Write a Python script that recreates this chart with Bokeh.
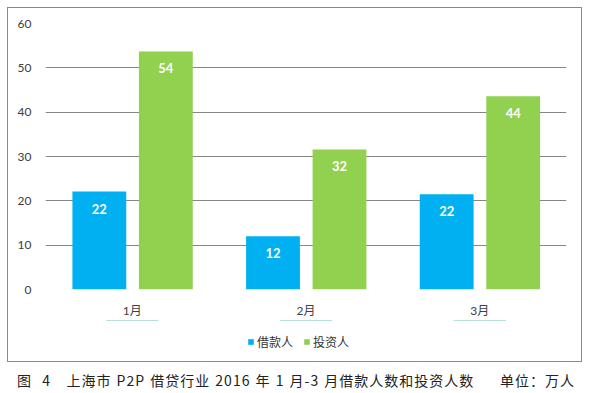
from bokeh.plotting import figure
from bokeh.models import ColumnDataSource, FactorRange, Legend, LegendItem, Div, FixedTicker, Range1d
from bokeh.transform import dodge
from bokeh.layouts import column
from bokeh.embed import file_html
from bokeh.resources import INLINE
from bokeh.core.properties import value

months = ["1月", "2月", "3月"]
borrowers = [22.1, 12.0, 21.5]
investors = [53.7, 31.6, 43.6]
borrower_labels = ["22", "12", "22"]
investor_labels = ["54", "32", "44"]
series_names = ["借款人", "投资人"]
y_ticks = [0, 10, 20, 30, 40, 50, 60]
caption_text = "图  4   上海市 P2P 借贷行业 2016 年 1 月-3 月借款人数和投资人数     单位：万人"

BLUE = "#00B0F0"
GREEN = "#92D050"
FONT = "Lato, 'Noto Sans CJK SC', sans-serif"

src = ColumnDataSource(dict(month=months, b=borrowers, i=investors,
                            bl=borrower_labels, il=investor_labels))

p = figure(width=573, height=312, x_range=FactorRange(factors=months, range_padding=0),
           y_range=(0, 60), output_backend="svg", toolbar_location=None,
           min_border_left=37, min_border_right=15, min_border_top=15, min_border_bottom=31)
p.outline_line_color = None

rb = p.vbar(x=dodge("month", -0.19, range=p.x_range), top="b", width=0.31, source=src,
            fill_color=BLUE, line_color=None)
ri = p.vbar(x=dodge("month", 0.193, range=p.x_range), top="i", width=0.31, source=src,
            fill_color=GREEN, line_color=None)

p.text(x=dodge("month", -0.19, range=p.x_range), y="b", text="bl", source=src,
       text_color="white", text_font=value(FONT), text_font_style="bold",
       text_font_size="13px", text_align="center", text_baseline="middle", y_offset=17)
p.text(x=dodge("month", 0.193, range=p.x_range), y="i", text="il", source=src,
       text_color="white", text_font=value(FONT), text_font_style="bold",
       text_font_size="13px", text_align="center", text_baseline="middle", y_offset=17)

p.xgrid.grid_line_color = None
p.ygrid.grid_line_color = "#868686"
p.ygrid.grid_line_width = 1
p.yaxis.ticker = FixedTicker(ticks=y_ticks)

for ax in (p.xaxis[0], p.yaxis[0]):
    ax.axis_line_color = None
    ax.major_tick_line_color = None
    ax.minor_tick_line_color = None
    ax.major_tick_in = 0
    ax.major_tick_out = 0
    ax.minor_tick_out = 0
    ax.major_label_text_font = FONT
    ax.major_label_text_font_size = "12px"
    ax.major_label_text_color = "#404040"
p.yaxis.major_label_standoff = 14
p.xaxis.major_label_standoff = 13

# legend strip: its own small figure inside the same bordered box;
# its bars have zero height (bottom == top), so only the legend shows
lf = figure(width=573, height=41, output_backend="svg", toolbar_location=None,
            x_axis_type=None, y_axis_type=None, min_border=0,
            x_range=FactorRange(factors=months), y_range=Range1d(-1000, -999))
lf.outline_line_color = None
lf.grid.visible = False
lb = lf.vbar(x="month", top="b", bottom="b", width=0.3, source=src,
             fill_color=BLUE, line_color=None)
li = lf.vbar(x="month", top="i", bottom="i", width=0.3, source=src,
             fill_color=GREEN, line_color=None)
legend = Legend(items=[LegendItem(label=series_names[0], renderers=[lb]),
                       LegendItem(label=series_names[1], renderers=[li])],
                orientation="horizontal", location=(202, 10),
                glyph_width=7, glyph_height=7, label_standoff=3, spacing=10,
                padding=4, margin=0, border_line_color=None, background_fill_alpha=0,
                label_text_font=FONT, label_text_font_size="12px",
                label_text_color="#333333", label_height=20)
lf.add_layout(legend, "center")

box = column(p, lf, width=575, height=355, spacing=0, margin=(0, 0, 0, 0),
             styles={"border": "1px solid #8a8a8a"})

cap_html = ('<span style="font-family:\'Noto Sans CJK SC\',sans-serif;font-size:14px;'
            'letter-spacing:1px;word-spacing:1px;color:#222;white-space:pre;">'
            + caption_text + "</span>")
cap = Div(text=cap_html, width=575, height=28, margin=(0, 0, 0, 0),
          styles={"padding-left": "10px", "padding-top": "8px"})

layout = column(box, cap, spacing=0, margin=(7, 0, 0, 7))
open("out.html", "w").write(file_html(layout, INLINE))
